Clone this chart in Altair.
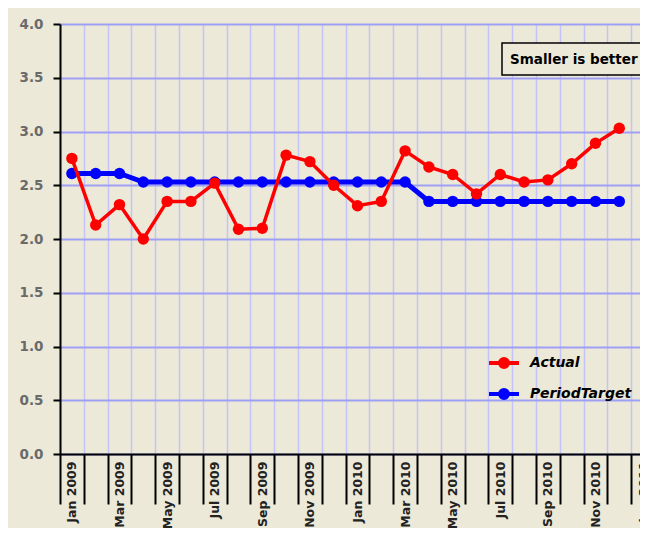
import altair as alt
import pandas as pd

months = ["Jan 2009", "Feb 2009", "Mar 2009", "Apr 2009", "May 2009", "Jun 2009",
          "Jul 2009", "Aug 2009", "Sep 2009", "Oct 2009", "Nov 2009", "Dec 2009",
          "Jan 2010", "Feb 2010", "Mar 2010", "Apr 2010", "May 2010", "Jun 2010",
          "Jul 2010", "Aug 2010", "Sep 2010", "Oct 2010", "Nov 2010", "Dec 2010",
          "Jan 2011"]

actual = [2.75, 2.13, 2.32, 2.00, 2.35, 2.35, 2.52, 2.09, 2.10, 2.78, 2.72, 2.50,
          2.31, 2.35, 2.82, 2.67, 2.60, 2.42, 2.60, 2.53, 2.55, 2.70, 2.89, 3.03]

target = [2.61, 2.61, 2.61, 2.53, 2.53, 2.53, 2.53, 2.53, 2.53, 2.53, 2.53, 2.53,
          2.53, 2.53, 2.53, 2.35, 2.35, 2.35, 2.35, 2.35, 2.35, 2.35, 2.35, 2.35]

series_names = ["Actual", "PeriodTarget"]
series_colors = ["#ff0000", "#0000ff"]
y_ticks = [0, 0.5, 1.0, 1.5, 2.0, 2.5, 3.0, 3.5, 4.0]
note = "Smaller is better"

rows = []
for m, v in zip(months, actual):
    rows.append({"month": m, "value": v, "series": "Actual"})
for m, v in zip(months, target):
    rows.append({"month": m, "value": v, "series": "PeriodTarget"})
df = pd.DataFrame(rows)
one = pd.DataFrame({"a": [0]})

BG = "#ece9d8"
FONT = "DejaVu Sans"

sym = ("M-1,0L1,0"
       "M-0.1333,0A0.1333,0.1333,0,1,0,0.1333,0A0.1333,0.1333,0,1,0,-0.1333,0Z"
       "M-0.2667,0A0.2667,0.2667,0,1,0,0.2667,0A0.2667,0.2667,0,1,0,-0.2667,0Z")

x_enc = alt.X(
    "month:O",
    bandPosition=0.5,
    scale=alt.Scale(type="band", domain=months, range=[0, 595], paddingInner=0, paddingOuter=0),
    axis=alt.Axis(
        title=None, grid=True, tickBand="extent", tickSize=50, tickColor="black", tickWidth=2,
        domainColor="black", domainWidth=2, labelAngle=270, labelPadding=-43,
        labelFont=FONT, labelFontWeight="bold", labelFontSize=12.5, labelColor="#222222",
        gridColor="#c4c4fa", gridWidth=1.5, labelOverlap=False,
        labelExpr="indexof(['Jan','Mar','May','Jul','Sep','Nov'], slice(datum.label,0,3)) >= 0 ? datum.label : ''",
    ),
)
y_enc = alt.Y(
    "value:Q",
    scale=alt.Scale(domain=[0, 4]),
    axis=alt.Axis(
        title=None, values=y_ticks, format=".1f", tickSize=7, tickColor="black", tickWidth=2,
        domainColor="black", domainWidth=2, labelPadding=10, labelFont=FONT,
        labelFontWeight="bold", labelFontSize=13.5, labelColor="#6a6a6a",
        gridColor="#9f9ff5", gridWidth=2,
    ),
)
legend = alt.Legend(
    title=None, orient="none", legendX=427, legendY=322, symbolType=sym, symbolSize=900,
    symbolStrokeWidth=4, labelFont=FONT, labelFontSize=14, labelFontStyle="italic",
    labelFontWeight="bold", labelColor="black", labelOffset=9, rowPadding=1, padding=0,
)
c_enc = alt.Color("series:N", scale=alt.Scale(domain=series_names, range=series_colors), legend=legend)

base = alt.Chart(df).encode(x=x_enc, y=y_enc, color=c_enc)
tgt = base.transform_filter(alt.datum.series == "PeriodTarget").mark_line(
    strokeWidth=5, point=alt.OverlayMarkDef(filled=True, size=130, opacity=1)
)
act = base.transform_filter(alt.datum.series == "Actual").mark_line(
    strokeWidth=3.5, point=alt.OverlayMarkDef(filled=True, size=130, opacity=1)
)

box = alt.Chart(one).mark_rect(fill=BG, stroke="black", strokeWidth=1.5, clip=False).encode(
    x=alt.value(442), x2=alt.value(680), y=alt.value(19), y2=alt.value(51)
)
txt = alt.Chart(one).mark_text(
    align="left", baseline="middle", font=FONT, fontWeight="bold", fontSize=13.5, color="black"
).encode(x=alt.value(450), y=alt.value(36), text=alt.value(note))

chart = alt.layer(tgt, act, box, txt).properties(
    width=580, height=430,
    autosize=alt.AutoSizeParams(type="none"),
    padding={"left": 52, "top": 16, "right": 0, "bottom": 74},
    background=BG,
).configure_view(strokeWidth=0)

chart.save("out.html", embed_options={"renderer": "svg", "actions": False})
